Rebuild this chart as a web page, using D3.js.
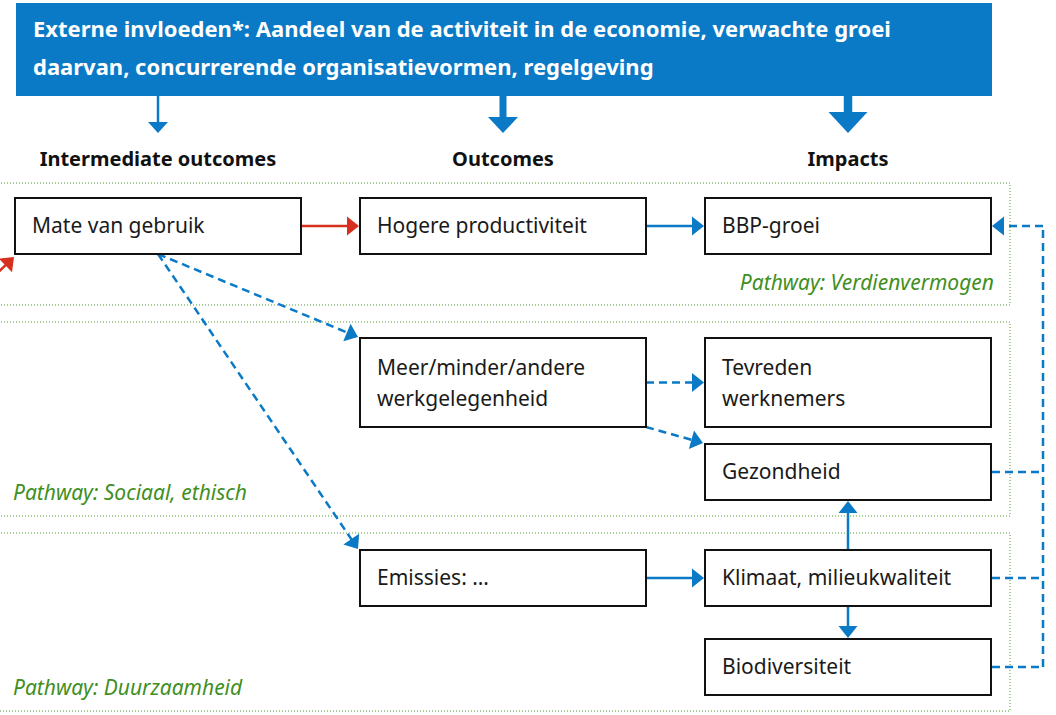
<!DOCTYPE html>
<html>
<head>
<meta charset="UTF-8">
<script src="https://cdn.jsdelivr.net/npm/d3@7"></script>
<style>
  body { margin: 0; background: #fff; }
  svg { display: block; }
  .box { fill: #fff; stroke: #111; stroke-width: 2; }
  .boxtext { font-family: "Noto Sans", sans-serif; font-size: 21px; fill: #1a1a1a; }
  .head { font-family: "Noto Sans", sans-serif; font-size: 20px; font-weight: bold; fill: #111; }
  .banner-text { font-family: "Noto Sans", sans-serif; font-size: 22px; font-weight: bold; fill: #fff; }
  .pathway { font-family: "Noto Sans", sans-serif; font-size: 21px; font-style: italic; fill: #3f8f22; }
  .band { fill: none; stroke: #4f9e2c; stroke-width: 1; stroke-dasharray: 1,2; }
</style>
</head>
<body>
<script>
var svgWidth = 1056, svgHeight = 715;
var blue = "#0a79c6", red = "#d7301f";

// banner text and column headers
var bannerLines = [
  "Externe invloeden*: Aandeel van de activiteit in de economie, verwachte groei",
  "daarvan, concurrerende organisatievormen, regelgeving"
];
var columns = ["Intermediate outcomes", "Outcomes", "Impacts"];
var bannerArrowSize = [1, 2, 3]; // small, medium, large

// nodes: column index, row index, text lines
var nodeIds = ["mate", "hogere", "bbp", "meer", "tevreden", "gezond", "emissies", "klimaat", "bio"];
var nodeCols = [0, 1, 2, 1, 2, 2, 1, 2, 2];
var nodeRows = [0, 0, 0, 1, 1, 2, 3, 3, 4];
var nodeLabels = [
  ["Mate van gebruik"], ["Hogere productiviteit"], ["BBP-groei"],
  ["Meer/minder/andere", "werkgelegenheid"], ["Tevreden", "werknemers"], ["Gezondheid"],
  ["Emissies: \u2026"], ["Klimaat, milieukwaliteit"], ["Biodiversiteit"]
];
var nodeTall = [false, false, false, true, true, false, false, false, false];

// links
var linkFrom = ["input", "mate", "hogere", "mate", "mate", "meer", "meer", "emissies", "klimaat", "klimaat"];
var linkTo   = ["mate", "hogere", "bbp", "meer", "emissies", "tevreden", "gezond", "klimaat", "gezond", "bio"];
var linkKind = ["red", "red", "solid", "dashed", "dashed", "dashed", "dashed", "solid", "solid", "solid"];

// feedback to BBP-groei
var feedbackFrom = ["gezond", "klimaat", "bio"];
var feedbackTo = "bbp";

// pathway bands
var pathways = ["Pathway: Verdienvermogen", "Pathway: Sociaal, ethisch", "Pathway: Duurzaamheid"];

var svg = d3.select("body").append("svg")
  .attr("width", svgWidth)
  .attr("height", svgHeight);

// layout scales
var x = d3.scaleOrdinal().domain([0, 1, 2]).range([15, 360, 705]);
var rowY = d3.scaleOrdinal().domain([0, 1, 2, 3, 4]).range([198, 338, 444, 550, 639]);
var boxW = 286, boxH = 56, tallH = 89;

var nodes = nodeIds.map(function(id, i) {
  var h = nodeTall[i] ? tallH : boxH;
  return { id: id, x: x(nodeCols[i]), y: rowY(nodeRows[i]), w: boxW, h: h, lines: nodeLabels[i], col: nodeCols[i] };
});
var byId = {};
nodes.forEach(function(n) { byId[n.id] = n; });

// pathway bands
var bandTop = [183, 322, 533], bandBottom = [305, 516, 711];
var bandRight = 1010;
var bands = svg.append("g");
pathways.forEach(function(p, i) {
  var t = bandTop[i], b = bandBottom[i];
  bands.append("path").attr("class", "band")
    .attr("d", "M-5," + t + "H" + bandRight + "V" + b + "H-5");
  if (i == 0) {
    bands.append("text").attr("class", "pathway")
      .attr("x", 994).attr("y", b - 15).attr("text-anchor", "end").text(p);
  } else {
    bands.append("text").attr("class", "pathway")
      .attr("x", 13).attr("y", b - 16).text(p);
  }
});

// banner
svg.append("rect").attr("x", 16).attr("y", 3).attr("width", 976).attr("height", 93).attr("fill", blue);
bannerLines.forEach(function(l, i) {
  svg.append("text").attr("class", "banner-text")
    .attr("x", 33).attr("y", 37 + i * 38).text(l);
});

var colCenter = function(c) { return x(c) + boxW / 2; };

// banner arrows and column headers
columns.forEach(function(c, i) {
  var cx = colCenter(i), s = bannerArrowSize[i];
  var shaftW = [0, 2.5, 7, 8.5][s], headW = [0, 20, 30, 39][s], headL = [0, 11, 16, 21][s];
  svg.append("rect").attr("x", cx - shaftW / 2).attr("y", 96).attr("width", shaftW).attr("height", 133 - headL - 96 + 1).attr("fill", blue);
  svg.append("path").attr("fill", blue)
    .attr("d", "M" + (cx - headW / 2) + "," + (133 - headL) + "L" + (cx + headW / 2) + "," + (133 - headL) + "L" + cx + ",133Z");
  svg.append("text").attr("class", "head").attr("x", cx).attr("y", 166).attr("text-anchor", "middle").text(c);
});

// arrow helper
function arrow(g, x1, y1, x2, y2, color, dashed) {
  var hl = 12, hw = 9.5;
  var dx = x2 - x1, dy = y2 - y1, len = Math.sqrt(dx * dx + dy * dy);
  var ux = dx / len, uy = dy / len;
  var bx = x2 - ux * hl, by = y2 - uy * hl;
  g.append("line")
    .attr("x1", x1).attr("y1", y1).attr("x2", bx + ux).attr("y2", by + uy)
    .attr("stroke", color).attr("stroke-width", 2.5)
    .attr("stroke-dasharray", dashed ? "8,5" : null);
  g.append("path").attr("fill", color)
    .attr("d", "M" + x2 + "," + y2 +
      "L" + (bx - uy * hw) + "," + (by + ux * hw) +
      "L" + (bx + uy * hw) + "," + (by - ux * hw) + "Z");
}

var linkG = svg.append("g");
linkFrom.forEach(function(f, i) {
  var t = byId[linkTo[i]], color = linkKind[i] == "red" ? red : blue, dashed = linkKind[i] == "dashed";
  var x1, y1, x2, y2;
  if (f == "input") {
    x1 = -20; y1 = 290; x2 = t.x - 1; y2 = t.y + t.h + 3;
  } else {
    var s = byId[f];
    if (s.col == t.col) {
      x1 = x2 = s.x + s.w / 2;
      if (t.y < s.y) { y1 = s.y; y2 = t.y + t.h + 1; } else { y1 = s.y + s.h; y2 = t.y - 1; }
    } else if (s.y == t.y) {
      x1 = s.x + s.w; y1 = s.y + s.h / 2; x2 = t.x - 1; y2 = t.y + t.h / 2;
    } else if (s.y + s.h < t.y) {
      x1 = s.col == 0 ? s.x + s.w / 2 : s.x + s.w; y1 = s.y + s.h;
      x2 = t.x - 2; y2 = t.y - 1;
    } else {
      x1 = s.x + s.w; y1 = s.y + s.h / 2; x2 = t.x - 1; y2 = t.y + t.h / 2;
    }
  }
  arrow(linkG, x1, y1, x2, y2, color, dashed);
});

// feedback connectors
var fbX = 1043, fbTarget = byId[feedbackTo];
var fbYs = feedbackFrom.map(function(id) { var n = byId[id]; return n.y + n.h / 2; });
feedbackFrom.forEach(function(id, i) {
  var n = byId[id];
  linkG.append("line").attr("x1", n.x + n.w + 1).attr("y1", fbYs[i]).attr("x2", fbX).attr("y2", fbYs[i])
    .attr("stroke", blue).attr("stroke-width", 2.5).attr("stroke-dasharray", "8,5");
});
var ty = fbTarget.y + fbTarget.h / 2;
linkG.append("line").attr("x1", fbX).attr("y1", d3.max(fbYs)).attr("x2", fbX).attr("y2", ty)
  .attr("stroke", blue).attr("stroke-width", 2.5).attr("stroke-dasharray", "8,5");
arrow(linkG, fbX, ty, fbTarget.x + fbTarget.w + 1, ty, blue, true);

// boxes
var nodeG = svg.selectAll(".node").data(nodes).enter().append("g").attr("class", "node");
nodeG.append("rect").attr("class", "box")
  .attr("x", function(d) { return d.x; }).attr("y", function(d) { return d.y; })
  .attr("width", function(d) { return d.w; }).attr("height", function(d) { return d.h; });
nodeG.each(function(d) {
  var g = d3.select(this);
  var y0 = d.lines.length == 1 ? d.y + d.h / 2 + 7 : d.y + 37;
  d.lines.forEach(function(l, i) {
    g.append("text").attr("class", "boxtext").attr("x", d.x + 17).attr("y", y0 + i * 31).text(l);
  });
});
</script>
</body>
</html>
